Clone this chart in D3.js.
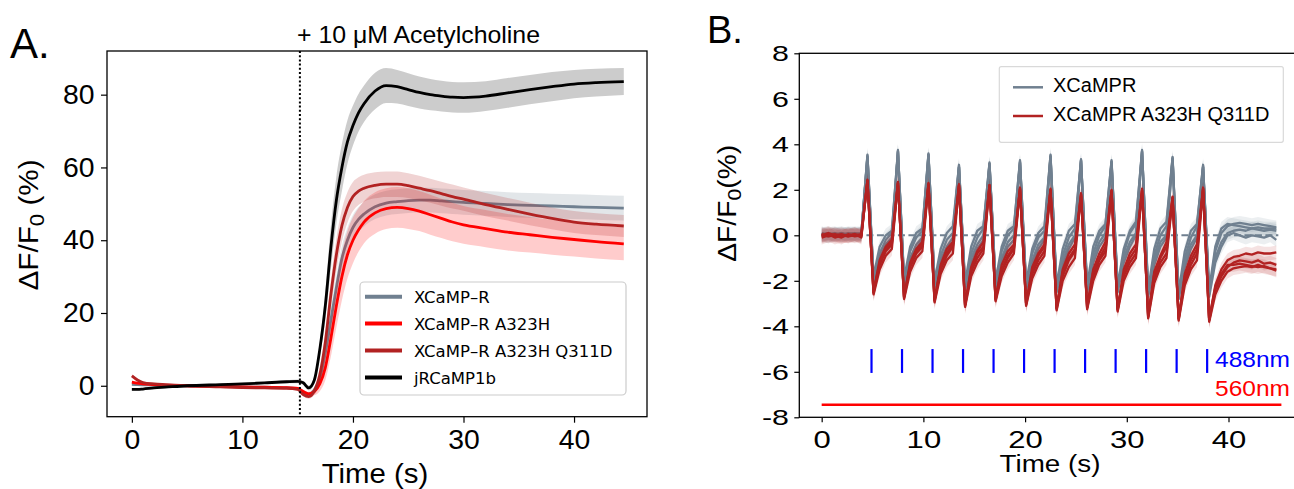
<!DOCTYPE html>
<html lang="en">
<head>
<meta charset="utf-8" />
<title>XCaMP-R responses</title>
<script src="https://d3js.org/d3.v7.min.js"></script>
<style>
  body { margin: 0; background: #fff; }
  svg { display: block; }
  .tick line { stroke: #000; stroke-width: 1.2; }
  .tick text { fill: #000; }
</style>
</head>
<body>
<svg width="1294" height="489"></svg>
<script>
// ---------- Panel A: acetylcholine response (mean +/- sem) ----------
const tA = [0, 0.5, 1, 2, 3, 5, 8, 10, 12, 14, 15, 15.5, 16, 16.5, 17, 17.5, 18, 18.5, 19, 19.5,
            20, 20.5, 21, 22, 23, 24, 25, 26, 27, 28, 29, 30, 32, 34, 36, 38, 40, 42, 44.5];

const xcampR = [0.4, 0.3, 0.25, 0.2, 0.1, 0, -0.2, -0.3, -0.4, -0.5, -0.8, -1.8, -2.3, -1.2, 2, 9, 18, 27, 35, 40,
                43.5, 45.7, 47.2, 49.2, 50.2, 50.6, 50.9, 51, 51, 50.8, 50.6, 50.4, 50.1, 49.8, 49.6, 49.4, 49.2, 49, 48.8];
const xcampR_se = [0.3, 0.3, 0.3, 0.3, 0.3, 0.3, 0.3, 0.3, 0.3, 0.3, 0.3, 0.4, 0.5, 0.8, 1.5, 2.5, 3, 3.3, 3.4, 3.4,
                   3.4, 3.4, 3.4, 3.4, 3.4, 3.4, 3.4, 3.4, 3.4, 3.4, 3.4, 3.4, 3.4, 3.4, 3.4, 3.4, 3.4, 3.4, 3.4];

const a323h = [1, 0.7, 0.5, 0.3, 0.2, 0, -0.2, -0.3, -0.4, -0.5, -0.7, -1.6, -2.2, -1.6, 0.5, 5, 13, 22, 30, 36,
               40, 42.8, 45, 47.5, 48.7, 49, 48.7, 48, 47, 46, 45, 44.2, 43.2, 42.2, 41.5, 40.8, 40.2, 39.6, 39];
const a323h_se = [0.4, 0.4, 0.3, 0.3, 0.3, 0.3, 0.3, 0.3, 0.3, 0.3, 0.4, 0.5, 0.6, 1, 2, 3.5, 5, 6, 6.5, 6.5,
                  6.3, 6, 5.8, 5.7, 5.6, 5.6, 5.6, 5.5, 5.5, 5.4, 5.3, 5.2, 5.1, 5, 4.9, 4.8, 4.7, 4.6, 4.5];

const q311d = [2.7, 1.6, 0.9, 0.5, 0.3, 0, -0.3, -0.5, -0.6, -0.7, -1, -2.4, -3, -1.5, 3, 12, 25, 36, 44, 49,
               52, 53.5, 54.3, 55.1, 55.4, 55.4, 55, 54.3, 53.6, 52.8, 52, 51.3, 49.8, 48.5, 47.2, 46, 45, 44.4, 43.9];
const q311d_se = [0.5, 0.4, 0.3, 0.3, 0.3, 0.3, 0.3, 0.3, 0.3, 0.3, 0.4, 0.5, 0.6, 1, 2, 3, 4, 4.5, 4.5, 4.2,
                  4, 3.8, 3.7, 3.6, 3.5, 3.5, 3.4, 3.4, 3.3, 3.3, 3.3, 3.2, 3.2, 3.1, 3.1, 3, 3, 3, 3];

const jrcamp = [-1, -1, -0.9, -0.6, -0.4, 0, 0.3, 0.5, 0.8, 1.1, 1.2, 0.8, -0.6, 1.5, 10, 22, 38, 51, 60, 67,
                71.5, 75, 77.5, 81, 82.5, 82.2, 81.4, 80.6, 80, 79.6, 79.3, 79.2, 79.6, 80.5, 81.4, 82.2, 82.9, 83.3, 83.6];
const jrcamp_se = [0.4, 0.4, 0.3, 0.3, 0.3, 0.3, 0.3, 0.3, 0.3, 0.4, 0.5, 0.6, 0.7, 1, 2, 4, 6, 6.5, 6.5, 6,
                   5.5, 5.2, 5, 5, 4.8, 4.6, 4.5, 4.4, 4.3, 4.2, 4.2, 4.2, 4.1, 4.1, 4, 4, 3.9, 3.8, 3.7];

const namesA = ["XCaMP\u2013R", "XCaMP\u2013R A323H", "XCaMP\u2013R A323H Q311D", "jRCaMP1b"];
const colorsA = ["#708090", "#ff0000", "#b22222", "#000000"];
const drugTime = 15.2;

// ---------- Panel B: optical stimulation trains (individual cells) ----------
const baseT = [0, 0.65, 1.3, 1.95, 2.6, 3.25, 3.9];
const pulseT = [4.5, 7.5, 10.5, 13.5, 16.5, 19.5, 22.5, 25.5, 28.5, 31.5, 34.5, 37.5];
const pulseStep = [0, 0.6, 1.2, 1.8, 2.4];      // peak, trough, recovery samples
const tailT = [40.5, 41.1, 41.7, 42.3, 42.9, 43.5, 44.1, 44.7];
const stimT = [4.9, 7.9, 10.9, 13.9, 16.9, 19.9, 22.9, 25.9, 28.9, 31.9, 34.9, 37.9];

const grayB_base = [
  [0.05, 0.1, 0, 0.08, 0.05, 0.1, 0.05],
  [0, 0.05, 0.1, 0, 0.05, 0, 0.05],
  [0.1, 0, 0.05, 0.1, 0, 0.05, 0.1],
  [0, -0.05, 0.05, 0, 0.1, 0.05, 0]
];
const grayB_pulse = [
  [[3.55,-2.0,-0.8,-0.2,0.1],[3.75,-2.1,-0.7,-0.1,0.2],[3.6,-2.2,-0.9,-0.2,0.1],[3.1,-2.3,-0.8,-0.1,0.3],
   [3.2,-2.2,-0.7,0.0,0.3],[3.3,-2.3,-0.8,-0.1,0.2],[3.55,-2.4,-0.9,-0.1,0.3],[3.35,-2.4,-0.8,0.0,0.4],
   [3.3,-2.4,-0.8,0.1,0.5],[3.75,-2.6,-0.9,0.0,0.4],[3.45,-2.7,-1.0,-0.1,0.4],[3.1,-2.6,-0.7,0.1,0.4]],
  [[3.45,-1.9,-1.0,-0.4,-0.1],[3.65,-2.0,-1.0,-0.4,-0.1],[3.5,-2.1,-1.1,-0.5,-0.1],[3.0,-2.2,-1.0,-0.4,0.0],
   [3.1,-2.1,-1.0,-0.3,0.0],[3.2,-2.2,-1.1,-0.4,-0.1],[3.45,-2.3,-1.1,-0.4,0.0],[3.25,-2.3,-1.0,-0.3,0.1],
   [3.2,-2.3,-1.0,-0.3,0.1],[3.65,-2.5,-1.1,-0.3,0.0],[3.35,-2.6,-1.2,-0.4,0.0],[3.0,-2.5,-1.0,-0.3,0.1]],
  [[3.5,-1.8,-0.5,0.0,0.2],[3.7,-1.9,-0.5,0.1,0.3],[3.55,-2.0,-0.6,0.1,0.4],[3.05,-2.1,-0.5,0.2,0.4],
   [3.15,-2.0,-0.5,0.2,0.4],[3.25,-2.1,-0.6,0.1,0.4],[3.5,-2.2,-0.6,0.2,0.5],[3.3,-2.2,-0.5,0.2,0.5],
   [3.25,-2.2,-0.6,0.2,0.6],[3.7,-2.4,-0.6,0.3,0.6],[3.4,-2.5,-0.7,0.2,0.5],[3.05,-2.4,-0.5,0.3,0.5]],
  [[3.45,-2.1,-1.2,-0.6,-0.3],[3.7,-2.2,-1.2,-0.6,-0.2],[3.55,-2.3,-1.3,-0.7,-0.3],[3.0,-2.4,-1.2,-0.6,-0.2],
   [3.15,-2.3,-1.2,-0.5,-0.2],[3.2,-2.4,-1.3,-0.6,-0.2],[3.45,-2.5,-1.3,-0.6,-0.1],[3.3,-2.5,-1.2,-0.5,-0.1],
   [3.2,-2.5,-1.2,-0.5,0.0],[3.7,-2.7,-1.3,-0.5,-0.1],[3.35,-2.8,-1.4,-0.6,-0.1],[3.0,-2.7,-1.2,-0.5,0.0]]
];
const grayB_tail = [
  [0.5, 0.55, 0.5, 0.45, 0.5, 0.45, 0.4, 0.35],
  [0.2, 0.25, 0.2, 0.3, 0.25, 0.2, 0.25, 0.2],
  [0.45, 0.4, 0.35, 0.3, 0.35, 0.3, 0.3, 0.3],
  [0.1, 0, -0.1, 0, -0.05, -0.1, 0, -0.2]
];

const redB_base = [
  [-0.05, 0.05, -0.1, 0, -0.05, 0.05, -0.1],
  [0.05, -0.05, 0, -0.1, 0.05, -0.05, 0],
  [0, 0.1, 0, 0.05, -0.05, 0, 0.05],
  [-0.1, 0, 0.05, -0.05, 0, 0.05, -0.05]
];
const redB_pulse = [
  [[2.45,-2.55,-1.3,-0.7,-0.4],[2.35,-2.75,-1.4,-0.8,-0.5],[2.3,-2.9,-1.5,-0.9,-0.5],[2.25,-3.1,-1.6,-1.0,-0.6],
   [2.2,-2.85,-1.6,-1.0,-0.6],[2.1,-3.05,-1.7,-1.1,-0.7],[2.05,-3.25,-1.8,-1.1,-0.7],[1.85,-3.2,-1.8,-1.1,-0.7],
   [2.0,-3.3,-1.8,-1.2,-0.8],[2.05,-3.6,-1.9,-1.2,-0.8],[1.7,-3.7,-2.0,-1.3,-0.8],[2.1,-3.75,-2.4,-1.8,-1.4]],
  [[2.4,-2.5,-1.1,-0.5,-0.2],[2.3,-2.7,-1.2,-0.6,-0.3],[2.25,-2.85,-1.3,-0.6,-0.3],[2.2,-3.05,-1.4,-0.7,-0.3],
   [2.2,-2.8,-1.3,-0.7,-0.4],[2.05,-3.0,-1.4,-0.8,-0.4],[2.0,-3.2,-1.5,-0.8,-0.4],[1.8,-3.15,-1.5,-0.8,-0.3],
   [1.95,-3.25,-1.5,-0.8,-0.4],[2.0,-3.55,-1.6,-0.9,-0.3],[1.65,-3.65,-1.7,-0.9,-0.4],[2.05,-3.7,-2.2,-1.5,-1.1]],
  [[2.4,-2.6,-1.5,-0.9,-0.6],[2.3,-2.8,-1.6,-1.0,-0.7],[2.2,-2.95,-1.7,-1.1,-0.8],[2.15,-3.15,-1.8,-1.2,-0.8],
   [2.15,-2.9,-1.8,-1.2,-0.8],[2.0,-3.1,-1.9,-1.3,-0.9],[1.95,-3.3,-2.0,-1.4,-1.0],[1.75,-3.25,-2.0,-1.3,-0.9],
   [1.9,-3.35,-2.0,-1.4,-1.0],[1.95,-3.65,-2.1,-1.4,-1.0],[1.6,-3.75,-2.2,-1.5,-1.1],[2.0,-3.8,-2.6,-2.0,-1.6]],
  [[2.4,-2.5,-1.2,-0.6,-0.3],[2.3,-2.7,-1.3,-0.7,-0.4],[2.25,-2.85,-1.4,-0.8,-0.4],[2.2,-3.05,-1.5,-0.8,-0.5],
   [2.2,-2.8,-1.5,-0.9,-0.5],[2.05,-3.0,-1.6,-0.9,-0.5],[2.0,-3.2,-1.6,-1.0,-0.6],[1.8,-3.15,-1.6,-1.0,-0.5],
   [1.95,-3.25,-1.7,-1.0,-0.6],[2.0,-3.55,-1.7,-1.0,-0.5],[1.65,-3.65,-1.8,-1.1,-0.6],[2.05,-3.7,-2.3,-1.7,-1.3]]
];
const redB_tail = [
  [-1.2, -1.1, -1.15, -1.2, -1.1, -1.25, -1.2, -1.3],
  [-0.95, -0.9, -0.8, -0.85, -0.75, -0.8, -0.8, -0.75],
  [-1.45, -1.4, -1.35, -1.4, -1.3, -1.4, -1.45, -1.5],
  [-1.3, -1.25, -1.3, -1.35, -1.4, -1.35, -1.45, -1.55]
];
const bandB = 0.3;
const namesB = ["XCaMPR", "XCaMPR A323H Q311D"];
const colorsB = ["#708090", "#b22222"];

// ---------------------------------------------------------------
const svg = d3.select("svg");
const sans = '"Liberation Sans", Arial, Helvetica, sans-serif';

// text helper; k stretches glyphs horizontally like in the source figure
function label(g, x, y, txt, size, k, rot, anchor) {
  const t = g.append("text")
    .attr("transform", `translate(${x},${y})` + (rot ? ` rotate(${rot})` : "") + ` scale(${k},1)`)
    .attr("text-anchor", anchor || "middle")
    .style("font-family", sans)
    .style("font-size", size + "px");
  if (txt) t.text(txt);
  return t;
}

function yLabel(g, x, y, size, k, gap) {
  const t = label(g, x, y, null, size, k, -90);
  t.append("tspan").text("\u0394F/F");
  t.append("tspan").text("0").style("font-size", (size * 0.75) + "px").attr("dy", size * 0.22);
  t.append("tspan").text(gap + "(%)").attr("dy", -size * 0.22);
}

function styleTicks(ax, size, k, off) {
  const tx = ax.selectAll(".tick text")
    .style("font-family", sans)
    .style("font-size", size + "px")
    .attr("transform", `scale(${k},1)`);
  if (off) tx.attr("x", -off / k);
}

// ================= Panel A =================
const gA = svg.append("g");
const xA = d3.scaleLinear().domain([-2.25, 46.6]).range([107, 647]);
const yA = d3.scaleLinear().domain([-8.5, 92]).range([416.7, 51]);

const seriesA = [
  { v: xcampR, se: xcampR_se, op: 0.2 },
  { v: a323h, se: a323h_se, op: 0.2 },
  { v: q311d, se: q311d_se, op: 0.2 },
  { v: jrcamp, se: jrcamp_se, op: 0.2 }
].map((s, i) => ({ ...s, color: colorsA[i], name: namesA[i],
  pts: tA.map((t, j) => ({ t, v: s.v[j], e: s.se[j] })) }));

const bandA = d3.area().curve(d3.curveMonotoneX)
  .x(d => xA(d.t)).y0(d => yA(d.v - d.e)).y1(d => yA(d.v + d.e));
const lineA = d3.line().curve(d3.curveMonotoneX)
  .x(d => xA(d.t)).y(d => yA(d.v));

seriesA.forEach(s => {
  gA.append("path").attr("d", bandA(s.pts))
    .attr("fill", s.color).attr("fill-opacity", s.op).attr("stroke", "none");
  gA.append("path").attr("d", lineA(s.pts))
    .attr("fill", "none").attr("stroke", s.color).attr("stroke-width", 2.8);
});

// drug application
gA.append("line")
  .attr("x1", xA(drugTime)).attr("x2", xA(drugTime))
  .attr("y1", yA.range()[1]).attr("y2", yA.range()[0])
  .attr("stroke", "#000").attr("stroke-width", 2).attr("stroke-dasharray", "2,2.2");

const axAx = gA.append("g").attr("transform", "translate(0,416.7)")
  .call(d3.axisBottom(xA).tickValues([0, 10, 20, 30, 40]).tickSize(6).tickPadding(7.3));
axAx.select(".domain").remove();
styleTicks(axAx, 27, 1.05);

const axAy = gA.append("g").attr("transform", "translate(107,0)")
  .call(d3.axisLeft(yA).tickValues([0, 20, 40, 60, 80]).tickSize(6).tickPadding(6));
axAy.select(".domain").remove();
styleTicks(axAy, 27, 1.05, 12.5);

gA.append("rect").attr("x", 107).attr("y", 51).attr("width", 540).attr("height", 365.7)
  .attr("fill", "none").attr("stroke", "#000").attr("stroke-width", 1.3);

label(gA, 375, 483, "Time (s)", 28, 1.05);
yLabel(gA, 38, 225, 28, 1.06, " ");
label(gA, 297, 43.3, null, 24, 1, 0, "start")
  .attr("textLength", 243).attr("lengthAdjust", "spacingAndGlyphs")
  .text("+ 10 \u03bcM Acetylcholine");
label(gA, 10, 58.3, "A.", 42, 1, 0, "start");

// legend A
const legA = gA.append("g");
legA.append("rect").attr("x", 360).attr("y", 282).attr("width", 266).attr("height", 113)
  .attr("rx", 4).attr("fill", "#fff").attr("fill-opacity", 0.85)
  .attr("stroke", "#cccccc").attr("stroke-width", 1.2);
seriesA.forEach((s, i) => {
  const yy = 296.7 + i * 26.9;
  legA.append("line").attr("x1", 365).attr("x2", 402).attr("y1", yy).attr("y2", yy)
    .attr("stroke", s.color).attr("stroke-width", 4);
  legA.append("text").attr("x", 414).attr("y", yy + 6.6)
    .style("font-family", '"DejaVu Sans", sans-serif').style("font-size", "16.5px")
    .text(s.name);
});

// ================= Panel B =================
const gB = svg.append("g");
const xB = d3.scaleLinear().domain([-2.2, 47.03]).range([799.3, 1300]);
const yB = d3.scaleLinear().domain([-8, 8]).range([417.3, 53.3]);

const tB = baseT
  .concat(pulseT.flatMap(p => pulseStep.map(s => +(p + s).toFixed(2))))
  .concat(tailT);

function traces(base, pulse, tail) {
  return base.map((b, i) => b.concat(pulse[i].flat(), tail[i]).map((v, j) => ({ t: tB[j], v })));
}
const groupsB = [
  { color: colorsB[0], name: namesB[0], tr: traces(grayB_base, grayB_pulse, grayB_tail) },
  { color: colorsB[1], name: namesB[1], tr: traces(redB_base, redB_pulse, redB_tail) }
];

// zero reference
gB.append("line")
  .attr("x1", xB(4.4)).attr("x2", xB(44.9)).attr("y1", yB(0)).attr("y2", yB(0))
  .attr("stroke", "#708090").attr("stroke-width", 2).attr("stroke-dasharray", "7,3.5");

const bandBArea = d3.area().x(d => xB(d.t)).y0(d => yB(d.v - bandB)).y1(d => yB(d.v + bandB));
const lineB = d3.line().x(d => xB(d.t)).y(d => yB(d.v));

groupsB.forEach(g => {
  g.tr.forEach(tr => {
    gB.append("path").attr("d", bandBArea(tr))
      .attr("fill", g.color).attr("fill-opacity", 0.13);
  });
  g.tr.forEach(tr => {
    gB.append("path").attr("d", lineB(tr))
      .attr("fill", "none").attr("stroke", g.color).attr("stroke-width", 2.3)
      .attr("stroke-linejoin", "round");
  });
});

// stimulation marks
gB.selectAll(".stim").data(stimT).join("line").attr("class", "stim")
  .attr("x1", d => xB(d)).attr("x2", d => xB(d))
  .attr("y1", yB(-5)).attr("y2", yB(-6.05))
  .attr("stroke", "#0000ff").attr("stroke-width", 2.2);
gB.append("line")
  .attr("x1", xB(0)).attr("x2", xB(45.2)).attr("y1", yB(-7.45)).attr("y2", yB(-7.45))
  .attr("stroke", "#ff0000").attr("stroke-width", 2.5);
label(gB, 1215, 367, null, 22, 1, 0, "start").attr("fill", "#0000ff")
  .attr("textLength", 75).attr("lengthAdjust", "spacingAndGlyphs").text("488nm");
label(gB, 1215, 396, null, 22, 1, 0, "start").attr("fill", "#ff0000")
  .attr("textLength", 75).attr("lengthAdjust", "spacingAndGlyphs").text("560nm");

const axBx = gB.append("g").attr("transform", "translate(0,417.3)")
  .call(d3.axisBottom(xB).tickValues([0, 10, 20, 30, 40]).tickSize(5).tickPadding(9.7));
axBx.select(".domain").remove();
styleTicks(axBx, 23, 1.35);

const axBy = gB.append("g").attr("transform", "translate(799.3,0)")
  .call(d3.axisLeft(yB).tickValues([-8, -6, -4, -2, 0, 2, 4, 6, 8])
    .tickFormat(d => String(d)).tickSize(5).tickPadding(5));
axBy.select(".domain").remove();
styleTicks(axBy, 22.5, 1.35, 10.3);

gB.append("rect").attr("x", 799.3).attr("y", 53.3).attr("width", 520).attr("height", 364)
  .attr("fill", "none").attr("stroke", "#000").attr("stroke-width", 1.3);

label(gB, 1050, 471.7, "Time (s)", 23, 1.21);
yLabel(gB, 735.5, 203.3, 25, 1.13, "");
label(gB, 707, 42.7, "B.", 38, 1, 0, "start");

// legend B
const legB = gB.append("g");
legB.append("rect").attr("x", 999.3).attr("y", 66.7).attr("width", 284).attr("height", 75.6)
  .attr("rx", 2).attr("fill", "#fff").attr("fill-opacity", 0.85)
  .attr("stroke", "#d9d9d9").attr("stroke-width", 1.2);
groupsB.forEach((g, i) => {
  const yy = 87.3 + i * 28.7;
  legB.append("line").attr("x1", 1013).attr("x2", 1043).attr("y1", yy).attr("y2", yy)
    .attr("stroke", g.color).attr("stroke-width", 2.5);
  legB.append("text").attr("x", 1053).attr("y", yy + 5)
    .style("font-family", sans).style("font-size", "20px").text(g.name);
});
</script>
</body>
</html>
